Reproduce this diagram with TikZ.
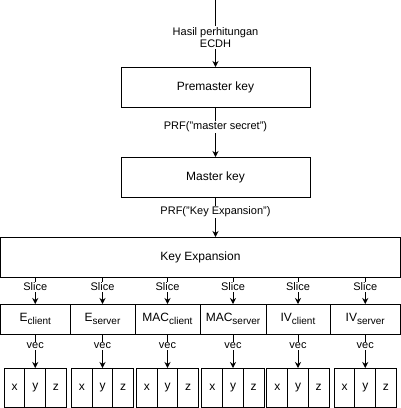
\documentclass[tikz,border=0pt]{standalone}
\usepackage{fontspec}
\setmainfont{Liberation Sans}
\usetikzlibrary{arrows.meta, positioning}
\newcommand{\subtxt}[1]{\raisebox{-2.5pt}{\fontsize{10}{12}\selectfont #1}}

\begin{document}
\begin{tikzpicture}[x=1pt, y=-1pt,
    box/.style={draw, line width=1pt, minimum height=40pt, inner sep=0pt, outer sep=0pt, font=\fontsize{12}{14}\selectfont},
    part/.style={draw, line width=1pt, minimum height=30pt, inner sep=0pt, outer sep=0pt, font=\fontsize{12}{14}\selectfont},
    cell/.style={draw, line width=1pt, minimum width=20.7pt, minimum height=39.5pt, inner sep=0pt, outer sep=0pt, font=\fontsize{12}{14}\selectfont},
    arr/.style={-{Stealth[length=6pt, width=6pt]}, line width=1pt},
    lbl/.style={fill=white, inner sep=1pt, align=center, font=\fontsize{11}{12}\selectfont}]
    \useasboundingbox (0,0) rectangle (401,408);

    % key chain
    \coordinate (top) at (215.5,0);
    \node[box, minimum width=189pt] (pre) at (215.5,87) {Premaster key};
    \node[box, minimum width=189pt] (master) at (215.5,177) {Master key};
    \node[box, minimum width=400pt] (kexp) at (200.5,257) {Key Expansion};

    \draw[arr] (top) -- node[lbl, pos=0.56] {Hasil perhitungan\\ECDH} (pre);
    \draw[arr] (pre) -- node[lbl, pos=0.4] {PRF(\symbol{34}master secret\symbol{34})} (master);
    \draw[arr] (master |- master.south) -- node[lbl, pos=0.375] {PRF(\symbol{34}Key Expansion\symbol{34})} (master |- kexp.north);

    % sliced keys
    \node[part, minimum width=69.5pt] (ec) at (35.25,319) {E\subtxt{client}};
    \node[part, minimum width=65pt, right=0pt of ec] (es) {E\subtxt{server}};
    \node[part, minimum width=65pt, right=0pt of es] (mc) {MAC\subtxt{client}};
    \node[part, minimum width=66pt, right=0pt of mc] (ms) {MAC\subtxt{server}};
    \node[part, minimum width=64pt, right=0pt of ms] (ic) {IV\subtxt{client}};
    \node[part, minimum width=70.5pt, right=0pt of ic] (is) {IV\subtxt{server}};

    % vectors
    \foreach \p in {ec,es,mc,ms,ic,is} {
        \draw[arr] (\p |- kexp.south) -- node[lbl, pos=0.37] {Slice} (\p);
        \node[cell, below=34pt of \p] (y\p) {y};
        \node[cell, left=0pt of y\p] (x\p) {x};
        \node[cell, right=0pt of y\p] (z\p) {z};
        \draw[arr] (\p) -- node[lbl, pos=0.35] {vec} (y\p);
    }
\end{tikzpicture}
\end{document}
